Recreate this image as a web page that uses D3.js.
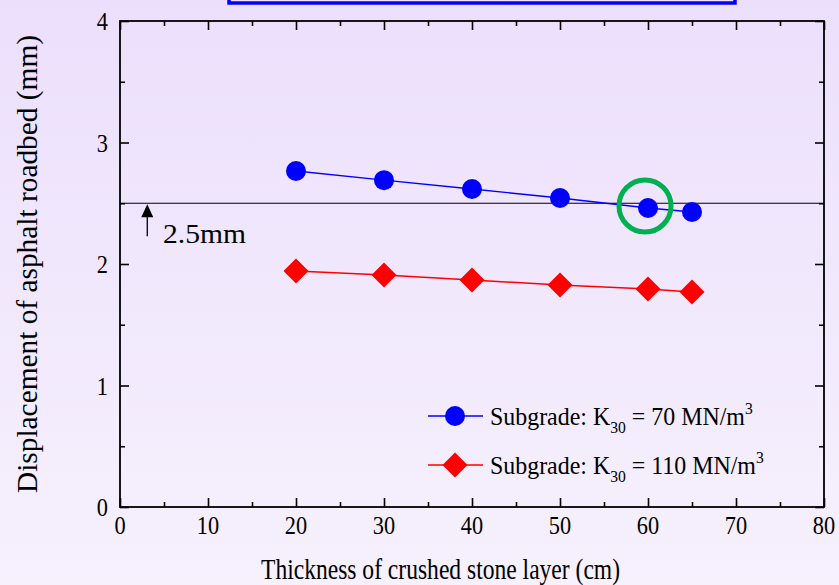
<!DOCTYPE html>
<html>
<head>
<meta charset="utf-8">
<script src="https://cdn.jsdelivr.net/npm/d3@7/dist/d3.min.js"></script>
<style>
  html, body { margin: 0; padding: 0; }
  svg { display: block; }
  svg text { font-family: "Liberation Serif", "Times New Roman", serif; }
</style>
</head>
<body>
<svg id="chart" width="839" height="585"></svg>
<script>
// Thickness of the crushed stone layer (cm)
const thickness = [20, 30, 40, 50, 60, 65];
// Displacement of asphalt roadbed (mm) for each subgrade modulus
const dispK70 = [2.765, 2.69, 2.617, 2.543, 2.461, 2.428];
const dispK110 = [1.942, 1.909, 1.868, 1.827, 1.794, 1.770];
const limitValue = 2.5;
const highlightIndex = 4;
const xTicks = [0, 10, 20, 30, 40, 50, 60, 70, 80];
const yTicks = [0, 1, 2, 3, 4];

const svg = d3.select("#chart");
const W = 839, H = 585;
const m = { left: 120, right: 15, top: 21, bottom: 78 };
const narrow = 0.86; // horizontal squeeze of the serif lettering

// page background gradient
const defs = svg.append("defs");
const grad = defs.append("linearGradient").attr("id", "bg").attr("x1", 0).attr("y1", 0).attr("x2", 0).attr("y2", 1);
grad.append("stop").attr("offset", "0%").attr("stop-color", "#ecdffc");
grad.append("stop").attr("offset", "100%").attr("stop-color", "#f6f1fd");
svg.append("rect").attr("width", W).attr("height", H).attr("fill", "url(#bg)");

const x = d3.scaleLinear().domain([0, 80]).range([m.left, W - m.right]);
const y = d3.scaleLinear().domain([0, 4]).range([H - m.bottom, m.top]);

// title box partly above the frame
svg.append("rect").attr("x", 229).attr("y", -20).attr("width", 506).attr("height", 23)
  .attr("fill", "none").attr("stroke", "#0000ff").attr("stroke-width", 3.5);

const minorX = d3.range(5, 80, 10);
const minorY = d3.range(0.5, 4, 1);
const axisColor = "#000";

function tickAxis(axisFn, scale, values, len, transform) {
  const g = svg.append("g").attr("transform", transform)
    .call(axisFn(scale).tickValues(values).tickSizeInner(len).tickSizeOuter(0).tickFormat(""));
  g.select(".domain").remove();
  g.selectAll(".tick line").attr("stroke", axisColor).attr("stroke-width", 1.6);
  return g;
}

const x0 = x(0), x1 = x(80), y0 = y(0), y1 = y(4);
// ticks point inward on all four sides
tickAxis(d3.axisTop, x, xTicks, 9, `translate(0,${y0})`);
tickAxis(d3.axisTop, x, minorX, 5, `translate(0,${y0})`);
tickAxis(d3.axisBottom, x, xTicks, 9, `translate(0,${y1})`);
tickAxis(d3.axisBottom, x, minorX, 5, `translate(0,${y1})`);
tickAxis(d3.axisRight, y, yTicks, 9, `translate(${x0},0)`);
tickAxis(d3.axisRight, y, minorY, 5, `translate(${x0},0)`);
tickAxis(d3.axisLeft, y, yTicks, 9, `translate(${x1},0)`);
tickAxis(d3.axisLeft, y, minorY, 5, `translate(${x1},0)`);

// frame
svg.append("rect").attr("x", x0).attr("y", y1).attr("width", x1 - x0).attr("height", y0 - y1)
  .attr("fill", "none").attr("stroke", axisColor).attr("stroke-width", 1.8);

// tick labels
svg.append("g").selectAll("text").data(xTicks).join("text")
  .attr("transform", d => `translate(${x(d)},${y0 + 27}) scale(${narrow},1)`)
  .attr("text-anchor", "middle").attr("font-size", 26).text(d => d);
svg.append("g").selectAll("text").data(yTicks).join("text")
  .attr("transform", d => `translate(${x0 - 12},${y(d) + 9}) scale(${narrow},1)`)
  .attr("text-anchor", "end").attr("font-size", 26).text(d => d);

// axis titles
svg.append("text").attr("x", 261).attr("y", 579)
  .attr("font-size", 30).attr("textLength", 359).attr("lengthAdjust", "spacingAndGlyphs")
  .text("Thickness of crushed stone layer (cm)");
svg.append("text").attr("transform", `translate(37,493) rotate(-90)`)
  .attr("font-size", 29).attr("textLength", 458).attr("lengthAdjust", "spacingAndGlyphs")
  .text("Displacement of asphalt roadbed (mm)");

// 2.5 mm limit line with arrow
svg.append("line").attr("x1", x0).attr("x2", x1).attr("y1", y(limitValue)).attr("y2", y(limitValue))
  .attr("stroke", "#000").attr("stroke-width", 1.2);
const ax = x(3.1);
svg.append("line").attr("x1", ax).attr("x2", ax).attr("y1", y(limitValue) + 33).attr("y2", y(limitValue) + 10)
  .attr("stroke", "#000").attr("stroke-width", 1.3);
svg.append("path").attr("d", `M${ax - 6},${y(limitValue) + 14} L${ax + 6},${y(limitValue) + 14} L${ax},${y(limitValue) + 1} Z`)
  .attr("fill", "#000");
svg.append("text").attr("x", 163).attr("y", y(limitValue) + 40).attr("font-size", 28)
  .attr("textLength", 83).attr("lengthAdjust", "spacingAndGlyphs").text("2.5mm");

// series lines and markers
const line = d3.line().x((d, i) => x(thickness[i])).y(d => y(d));
svg.append("path").datum(dispK70).attr("d", line).attr("fill", "none").attr("stroke", "#0000ff").attr("stroke-width", 1.4);
svg.append("path").datum(dispK110).attr("d", line).attr("fill", "none").attr("stroke", "#ff0000").attr("stroke-width", 1.4);

svg.append("g").selectAll("circle").data(dispK70).join("circle")
  .attr("cx", (d, i) => x(thickness[i])).attr("cy", d => y(d)).attr("r", 10).attr("fill", "#0000ff");

const diamond = (cx, cy, r) => `M${cx},${cy - r} L${cx + r},${cy} L${cx},${cy + r} L${cx - r},${cy} Z`;
svg.append("g").selectAll("path").data(dispK110).join("path")
  .attr("d", (d, i) => diamond(x(thickness[i]), y(d), 12.5)).attr("fill", "#ff0000");

// highlighted point
svg.append("circle").attr("cx", x(thickness[highlightIndex]) - 3).attr("cy", y(dispK70[highlightIndex]) - 2)
  .attr("r", 26).attr("fill", "none").attr("stroke", "#00b050").attr("stroke-width", 5);

// legend
const legend = [
  { label: "70", color: "#0000ff", shape: "circle", yPos: 416 },
  { label: "110", color: "#ff0000", shape: "diamond", yPos: 465 }
];
legend.forEach(l => {
  svg.append("line").attr("x1", 428).attr("x2", 483).attr("y1", l.yPos).attr("y2", l.yPos)
    .attr("stroke", l.color).attr("stroke-width", 1.4);
  if (l.shape === "circle") {
    svg.append("circle").attr("cx", 455).attr("cy", l.yPos).attr("r", 10).attr("fill", l.color);
  } else {
    svg.append("path").attr("d", diamond(455, l.yPos, 12.5)).attr("fill", l.color);
  }
  const t = svg.append("text").attr("transform", `translate(490,${l.yPos + 9}) scale(0.92,1)`)
    .attr("font-size", 26);
  t.append("tspan").text("Subgrade: K");
  t.append("tspan").attr("font-size", 17).attr("dy", 8).text("30");
  t.append("tspan").attr("dy", -8).text(` = ${l.label} MN/m`);
  t.append("tspan").attr("font-size", 17).attr("dy", -11).text("3");
});
</script>
</body>
</html>
